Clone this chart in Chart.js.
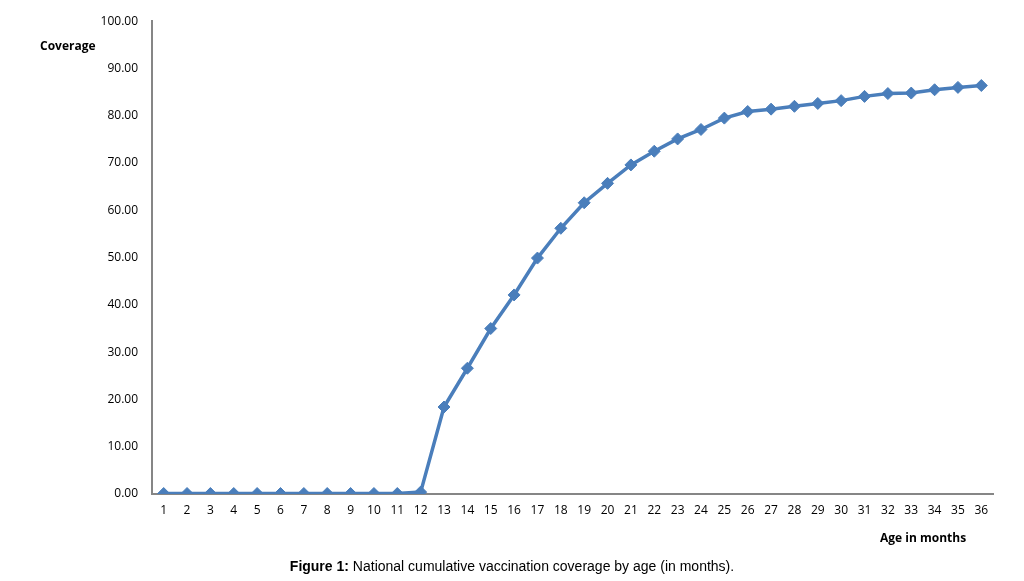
<!DOCTYPE html>
<html>
<head>
<meta charset="utf-8">
<script src="https://cdn.jsdelivr.net/npm/chart.js@4.4.0/dist/chart.umd.min.js"></script>
<style>
  body { margin: 0; background: #fff; }
  #wrap { position: relative; width: 1024px; height: 581px; }
  .lbl { position: absolute; font-family: "Open Sans", Lato, sans-serif; font-weight: bold; font-size: 12px; color: #000; }
  #caption { position: absolute; left: 0; width: 1024px; top: 558px; text-align: center;
    font-family: "Liberation Sans", Arial, sans-serif; font-size: 14px; color: #000; }
</style>
</head>
<body>
<div id="wrap">
  <canvas id="chart" width="1024" height="581"></canvas>
  <div class="lbl" style="left:40px; top:37px;">Coverage</div>
  <div class="lbl" style="left:880px; top:529px;">Age in months</div>
  <div id="caption"><b>Figure 1:</b> National cumulative vaccination coverage by age (in months).</div>
</div>
<script>
// months 1..36
var months = [];
for (var m = 1; m <= 36; m++) months.push(String(m));

var coverage = [
  0.1, 0.1, 0.1, 0.1, 0.1, 0.1, 0.1, 0.1, 0.1, 0.1, 0.1, 0.4,
  18.4, 26.6, 35.0, 42.1, 49.9, 56.2, 61.6, 65.7, 69.6, 72.5, 75.1, 77.1,
  79.5, 80.9, 81.4, 82.0, 82.6, 83.2, 84.1, 84.7, 84.8, 85.5, 86.0, 86.4
];

var yTicks = [0, 10, 20, 30, 40, 50, 60, 70, 80, 90, 100];

var ctx = document.getElementById('chart').getContext('2d');
var myChart = new Chart(ctx, {
  type: 'line',
  data: {
    labels: months,
    datasets: [{
      label: 'Coverage',
      data: coverage,
      borderColor: '#4a7ebb',
      backgroundColor: '#4a7ebb',
      borderWidth: 3.5,
      pointStyle: 'rectRot',
      pointRadius: 6,
      pointBorderWidth: 1,
      tension: 0
    }]
  },
  options: {
    responsive: false,
    animation: false,
    layout: { padding: { left: 0, right: 31, top: 17, bottom: 57 } },
    plugins: { legend: { display: false }, tooltip: { enabled: false } },
    scales: {
      x: {
        offset: true,
        grid: { display: false, drawTicks: false },
        border: { color: '#868686', width: 2 },
        ticks: { color: '#000', padding: 9, maxRotation: 0, autoSkip: false,
          font: { family: 'Open Sans', size: 12 } },
        afterFit: function(s) { s.height = 30; }
      },
      y: {
        min: 0, max: 100,
        afterBuildTicks: function(s) { s.ticks = yTicks.map(function(v) { return { value: v }; }); },
        grid: { display: false, drawTicks: false },
        border: { color: '#868686', width: 2 },
        ticks: { color: '#000', padding: 14,
          font: { family: 'Open Sans', size: 12 },
          callback: function(v) { return Number(v).toFixed(2); } },
        afterFit: function(s) { s.width = 152; }
      }
    }
  }
});
</script>
</body>
</html>
